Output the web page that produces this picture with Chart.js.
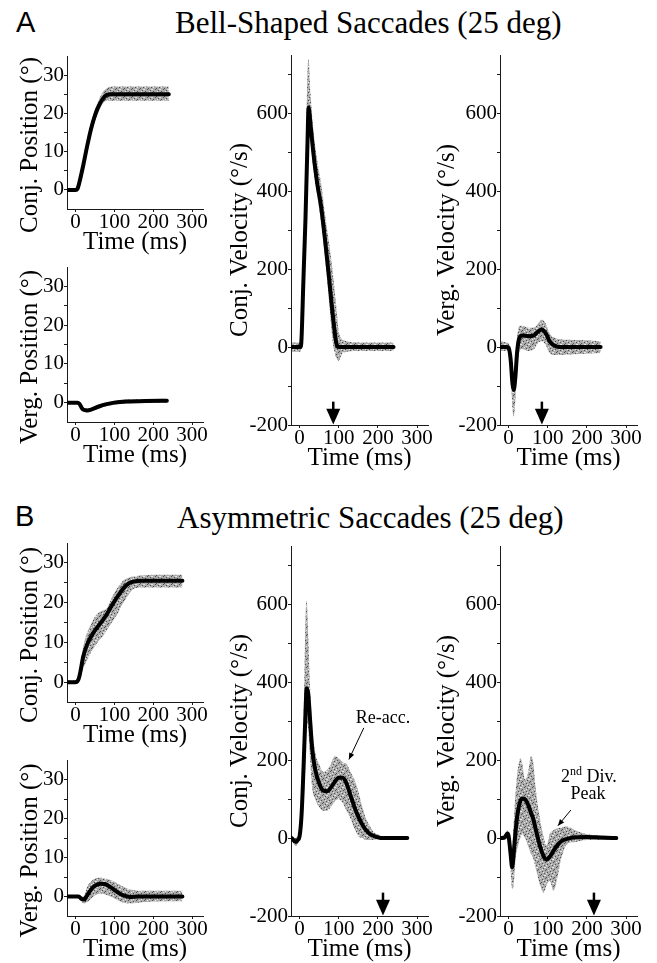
<!DOCTYPE html>
<html>
<head>
<meta charset="utf-8">
<title>Bell-shaped and asymmetric saccades</title>
<script src="https://cdn.jsdelivr.net/npm/chart.js@4.4.1/dist/chart.umd.min.js"></script>
<style>
  html, body { margin: 0; padding: 0; background: #fff; }
  #page { position: relative; width: 657px; height: 963px; overflow: hidden; background: #fff; }
  #page canvas { position: absolute; }
  .tag { position: absolute; font-family: "Liberation Sans", Arial, sans-serif; font-size: 29px; line-height: 29px; color: #000; }
  .head { position: absolute; font-family: "Liberation Serif", "Times New Roman", serif; font-size: 31px; line-height: 31px; color: #000; white-space: nowrap; }
</style>
</head>
<body>
<div id="page">
  <div class="tag" style="left:16px;top:8px">A</div>
  <div class="head" style="left:175px;top:7px">Bell-Shaped Saccades (25 deg)</div>
  <div class="tag" style="left:15px;top:502px">B</div>
  <div class="head" style="left:177px;top:502px">Asymmetric Saccades (25 deg)</div>

  <canvas id="aConjPos" width="213" height="213" style="left:0;top:44px"></canvas>
  <canvas id="aVergPos" width="213" height="215" style="left:0;top:255px"></canvas>
  <canvas id="aConjVel" width="223" height="430" style="left:215px;top:43px"></canvas>
  <canvas id="aVergVel" width="222" height="430" style="left:425px;top:43px"></canvas>

  <canvas id="bConjPos" width="213" height="219" style="left:0;top:531px"></canvas>
  <canvas id="bVergPos" width="213" height="216" style="left:0;top:748px"></canvas>
  <canvas id="bConjVel" width="223" height="430" style="left:215px;top:534px"></canvas>
  <canvas id="bVergVel" width="222" height="430" style="left:425px;top:534px"></canvas>
</div>

<script>
// ---- tick values ----
const timeTicks = [0, 100, 200, 300];
const posTicks = [0, 10, 20, 30];
const posMinor = [5, 15, 25];
const velTicks = [-200, 0, 200, 400, 600];
const velMinor = [-100, 100, 300, 500, 700];

// ---- A: bell-shaped saccades ----
const tAConjPos = [-20, 0, 5, 10, 20, 30, 40, 50, 60, 70, 80, 90, 100, 150, 200, 240];
const aConjPosMean = [0, 0, 0.3, 2, 6.5, 11.5, 16, 19.5, 22, 23.8, 24.8, 25, 25, 25, 25, 25];
const aConjPosHi = [0.3, 0.3, 0.8, 3, 8, 13, 17.5, 21, 23.5, 25.5, 26.5, 27, 27, 27, 27, 27];
const aConjPosLo = [-0.3, -0.3, 0, 1, 5, 10, 14.5, 18, 20.5, 22.5, 23.3, 23.3, 23.3, 23.3, 23.3, 23.3];

const tAVergPos = [-20, 5, 10, 15, 20, 30, 40, 60, 80, 100, 130, 180, 235];
const aVergPosMean = [0, 0, -0.3, -1.2, -1.8, -2.0, -1.8, -1.0, -0.4, 0, 0.3, 0.4, 0.5];
const aVergPosHi = [0.3, 0.3, 0.1, -0.8, -1.3, -1.5, -1.3, -0.5, 0.1, 0.5, 0.8, 0.9, 1.0];
const aVergPosLo = [-0.3, -0.3, -0.7, -1.6, -2.3, -2.5, -2.3, -1.5, -0.9, -0.5, -0.2, -0.1, 0];

const tAConjVel = [-20, 0, 3, 10, 15, 20, 23, 28, 35, 45, 55, 65, 75, 85, 95, 100, 105, 110, 150, 240];
const aConjVelMean = [0, 0, 0, 180, 330, 520, 615, 570, 500, 420, 360, 275, 180, 80, 5, 0, 0, 0, 0, 0];
const aConjVelHi = [12, 12, 15, 250, 450, 700, 740, 650, 560, 480, 420, 340, 270, 190, 90, 40, 25, 18, 12, 12];
const aConjVelLo = [-12, -12, -10, 130, 280, 480, 560, 530, 460, 390, 320, 230, 120, 10, -30, -35, -25, -15, -10, -10];

const tAVergVel = [-20, -5, 0, 5, 10, 13, 17, 22, 28, 35, 50, 65, 75, 85, 95, 105, 115, 130, 180, 235];
const aVergVelMean = [0, 0, -2, -30, -95, -110, -80, -10, 25, 30, 28, 30, 40, 45, 35, 15, 5, 0, 0, 0];
const aVergVelHi = [15, 12, 10, -10, -60, -70, -30, 30, 55, 55, 50, 50, 60, 70, 60, 35, 25, 20, 18, 15];
const aVergVelLo = [-10, -10, -12, -60, -160, -180, -140, -50, -10, -5, -10, -5, 10, 15, 5, -15, -20, -20, -18, -15];

// ---- B: asymmetric saccades ----
const tBConjPos = [-20, 0, 5, 10, 20, 30, 40, 50, 60, 70, 80, 90, 100, 110, 120, 130, 140, 150, 170, 200, 275];
const bConjPosMean = [0, 0, 0.2, 1.5, 6.5, 9.5, 11.5, 13, 14.3, 15.6, 17, 18.7, 20.3, 21.8, 23.2, 24.3, 25, 25.3, 25.5, 25.5, 25.5];
const bConjPosHi = [0.5, 0.5, 1, 3, 9, 12.5, 14.5, 16.5, 17.5, 18, 18.5, 20.5, 22.5, 24, 25.3, 26, 26.4, 26.6, 26.8, 27, 27];
const bConjPosLo = [-0.5, -0.5, -0.3, 0.5, 3.5, 5.5, 7.5, 9, 10.5, 11.5, 13, 14.5, 16, 17.5, 19.5, 21, 22.5, 23.5, 23.8, 23.8, 23.8];

const tBVergPos = [-20, 8, 15, 22, 30, 40, 50, 65, 75, 90, 105, 120, 140, 160, 200, 275];
const bVergPosMean = [0, 0, -0.6, -0.8, 0.3, 1.8, 2.8, 3.3, 3.2, 2.4, 1.3, 0.4, -0.1, 0, 0, 0];
const bVergPosHi = [0.3, 0.3, 0, 0.2, 2.5, 3.8, 4.6, 4.8, 4.6, 4.2, 3.5, 2.6, 1.8, 1.5, 1.5, 1.5];
const bVergPosLo = [-0.3, -0.3, -1.3, -1.8, -1.5, -0.5, 0.3, 0.8, 0.6, 0, -0.8, -1.5, -1.8, -1.6, -1.3, -1.2];

const tBConjVel = [-20, -10, -5, 0, 5, 10, 15, 18, 22, 27, 32, 40, 50, 60, 70, 80, 90, 100, 110, 120, 130, 140, 150, 160, 170, 180, 190, 200, 210, 275];
const bConjVelMean = [0, -10, -5, 5, 60, 180, 320, 385, 370, 300, 230, 175, 140, 122, 120, 130, 145, 155, 155, 140, 110, 80, 55, 35, 20, 10, 5, 2, 0, 0];
const bConjVelHi = [5, 0, 5, 15, 120, 300, 560, 610, 520, 380, 290, 220, 190, 170, 175, 190, 210, 205, 195, 190, 170, 150, 120, 80, 50, 30, 15, 10, 5, 5];
const bConjVelLo = [-5, -20, -15, -5, 20, 80, 200, 300, 280, 200, 130, 100, 80, 70, 70, 80, 95, 100, 90, 70, 50, 25, 5, 0, -5, -5, -4, -3, -3, -3];

const tBVergVel = [-20, -10, -3, 0, 5, 9, 13, 18, 24, 30, 35, 42, 50, 57, 62, 70, 80, 90, 97, 105, 115, 125, 135, 150, 170, 200, 275];
const bVergVelMean = [0, 2, 12, 5, -40, -75, -40, 20, 70, 95, 102, 100, 85, 65, 52, 20, -20, -48, -55, -48, -32, -18, -8, -2, 2, 3, 0];
const bVergVelHi = [5, 8, 20, 10, -10, -30, 40, 120, 180, 205, 190, 150, 170, 210, 200, 120, 50, 0, -20, 10, 20, 25, 28, 30, 20, 10, 5];
const bVergVelLo = [-5, -5, 0, -10, -80, -130, -120, -50, -20, 0, 10, 0, -20, -40, -50, -80, -120, -140, -120, -110, -135, -100, -50, -15, -10, -5, -5];

// end-of-saccade markers (ms)
const aArrowTimes = [86, 85];
const bArrowTimes = [213, 218];

const SERIF = '"Liberation Serif", "Times New Roman", Times, serif';
const INK = '#1a1a1a';
Chart.defaults.font.family = SERIF;
Chart.defaults.color = '#000';

// stippled grey used for the spread of individual traces
function speckle() {
  const c = document.createElement('canvas');
  c.width = 8; c.height = 8;
  const g = c.getContext('2d');
  g.fillStyle = '#ababab';
  g.fillRect(0, 0, 8, 8);
  g.fillStyle = '#505050';
  [[0, 0], [5, 1], [2, 2], [7, 3], [3, 5], [6, 6], [1, 7], [4, 4]].forEach(([x, y]) => g.fillRect(x, y, 1, 1));
  g.fillStyle = '#e4e4e4';
  [[3, 0], [1, 3], [6, 2], [0, 5], [5, 7], [7, 5]].forEach(([x, y]) => g.fillRect(x, y, 1, 1));
  return g.createPattern(c, 'repeat');
}
const stipple = speckle();

const zip = (xs, ys) => xs.map((x, i) => ({ x, y: ys[i] }));

// arrows under the x axis and text notes with pointers
const marksPlugin = {
  id: 'marks',
  afterDatasetsDraw(chart, args, opts) {
    const { ctx, scales: { x, y } } = chart;
    ctx.save();
    ctx.fillStyle = '#000';
    ctx.strokeStyle = '#000';
    (opts.arrows || []).forEach(t => {
      const px = x.getPixelForValue(t);
      const top = y.getPixelForValue(-140);
      const base = y.getPixelForValue(-158);
      const tip = y.getPixelForValue(-199);
      ctx.lineWidth = 2.5;
      ctx.beginPath(); ctx.moveTo(px, top); ctx.lineTo(px, base + 1); ctx.stroke();
      ctx.beginPath();
      ctx.moveTo(px - 7, base); ctx.lineTo(px + 7, base); ctx.lineTo(px, tip);
      ctx.closePath(); ctx.fill();
    });
    (opts.notes || []).forEach(n => {
      ctx.textAlign = 'left';
      ctx.textBaseline = 'middle';
      n.lines.forEach(line => {
        const cy = y.getPixelForValue(line.v);
        const parts = line.parts.map(p => {
          const size = p.sup ? 12 : 18;
          ctx.font = size + 'px ' + SERIF;
          return { ...p, size, w: ctx.measureText(p.text).width };
        });
        const total = parts.reduce((s, p) => s + p.w, 0);
        let cx = x.getPixelForValue(line.t) - total / 2;
        parts.forEach(p => {
          ctx.font = p.size + 'px ' + SERIF;
          ctx.fillText(p.text, cx, p.sup ? cy - 6 : cy);
          cx += p.w;
        });
      });
      const x0 = x.getPixelForValue(n.from[0]), y0 = y.getPixelForValue(n.from[1]);
      const x1 = x.getPixelForValue(n.to[0]), y1 = y.getPixelForValue(n.to[1]);
      const ang = Math.atan2(y1 - y0, x1 - x0);
      ctx.lineWidth = 1;
      ctx.beginPath(); ctx.moveTo(x0, y0); ctx.lineTo(x1, y1); ctx.stroke();
      ctx.beginPath();
      ctx.moveTo(x1, y1);
      ctx.lineTo(x1 - 7 * Math.cos(ang - 0.4), y1 - 7 * Math.sin(ang - 0.4));
      ctx.lineTo(x1 - 7 * Math.cos(ang + 0.4), y1 - 7 * Math.sin(ang + 0.4));
      ctx.closePath(); ctx.fill();
    });
    ctx.restore();
  }
};

function panel(id, p) {
  const yTickList = p.majors.concat(p.minors);
  const tickFont = { family: SERIF, size: 21, lineHeight: 1 };
  const titleFont = { family: SERIF, size: 25, lineHeight: 1 };
  return new Chart(document.getElementById(id), {
    type: 'line',
    data: {
      // mean first so it is drawn on top of the spread
      datasets: [
        { data: zip(p.t, p.mean), fill: false, borderColor: '#000', borderWidth: 4, pointRadius: 0, cubicInterpolationMode: 'monotone', borderCapStyle: 'round', borderJoinStyle: 'round' },
        { data: zip(p.t, p.hi), fill: '+1', backgroundColor: stipple, borderColor: 'rgba(0,0,0,0)', borderWidth: 1, pointRadius: 0, cubicInterpolationMode: 'monotone' },
        { data: zip(p.t, p.lo), fill: false, borderColor: 'rgba(0,0,0,0)', borderWidth: 1, pointRadius: 0, cubicInterpolationMode: 'monotone' }
      ]
    },
    options: {
      responsive: false,
      animation: false,
      parsing: false,
      events: [],
      layout: { padding: { top: 12, right: 10, bottom: 0, left: 0 } },
      plugins: {
        legend: { display: false },
        tooltip: { enabled: false },
        marks: { arrows: p.arrows || [], notes: p.notes || [] }
      },
      scales: {
        x: {
          type: 'linear', min: -22, max: 328,
          afterBuildTicks: s => { s.ticks = timeTicks.map(v => ({ value: v })); },
          afterFit: s => { s.height = 48; },
          border: { color: INK, width: 1 },
          grid: { drawOnChartArea: false, tickLength: 3, color: INK },
          ticks: { color: '#000', padding: 0, maxRotation: 0, minRotation: 0, autoSkip: false, font: tickFont, callback: v => String(v) },
          title: { display: true, text: 'Time (ms)', color: '#000', font: titleFont, padding: { top: 0, bottom: 2 } }
        },
        y: {
          type: 'linear', min: p.min, max: p.max,
          afterBuildTicks: s => { s.ticks = yTickList.map(v => ({ value: v })); },
          afterFit: s => { s.width = p.yw; },
          border: { color: INK, width: 1 },
          grid: { drawOnChartArea: false, tickLength: 3, color: INK },
          ticks: { color: '#000', padding: 0, autoSkip: false, font: tickFont, callback: v => p.majors.includes(v) ? String(v) : '' },
          title: { display: true, text: p.title, color: '#000', font: titleFont, padding: { top: p.titlePad, bottom: 0 } }
        }
      }
    },
    plugins: [marksPlugin]
  });
}

// trailing gap nudges the rotated position titles downward, as in the source figure
const GAP = '\u00a0\u00a0\u00a0\u00a0';
const posAxis = { min: -5, max: 35, majors: posTicks, minors: posMinor, yw: 67, titlePad: 17.5 };
const conjVelAxis = { min: -200, max: 750, majors: velTicks, minors: velMinor, yw: 76, titlePad: 12.5 };
const vergVelAxis = { min: -200, max: 750, majors: velTicks, minors: velMinor, yw: 75, titlePad: 9.5 };

panel('aConjPos', { ...posAxis, title: 'Conj. Position (°)' + GAP, t: tAConjPos, mean: aConjPosMean, hi: aConjPosHi, lo: aConjPosLo });
panel('aVergPos', { ...posAxis, title: 'Verg. Position (°)' + GAP, t: tAVergPos, mean: aVergPosMean, hi: aVergPosHi, lo: aVergPosLo });
panel('aConjVel', { ...conjVelAxis, title: 'Conj. Velocity (°/s)', t: tAConjVel, mean: aConjVelMean, hi: aConjVelHi, lo: aConjVelLo, arrows: [aArrowTimes[0]] });
panel('aVergVel', { ...vergVelAxis, title: 'Verg. Velocity (°/s)', t: tAVergVel, mean: aVergVelMean, hi: aVergVelHi, lo: aVergVelLo, arrows: [aArrowTimes[1]] });

panel('bConjPos', { ...posAxis, title: 'Conj. Position (°)' + GAP, t: tBConjPos, mean: bConjPosMean, hi: bConjPosHi, lo: bConjPosLo });
panel('bVergPos', { ...posAxis, title: 'Verg. Position (°)' + GAP, t: tBVergPos, mean: bVergPosMean, hi: bVergPosHi, lo: bVergPosLo });
panel('bConjVel', {
  ...conjVelAxis, title: 'Conj. Velocity (°/s)', t: tBConjVel, mean: bConjVelMean, hi: bConjVelHi, lo: bConjVelLo, arrows: [bArrowTimes[0]],
  notes: [{ lines: [{ t: 213, v: 308, parts: [{ text: 'Re-acc.' }] }], from: [164, 283], to: [126, 202] }]
});
panel('bVergVel', {
  ...vergVelAxis, title: 'Verg. Velocity (°/s)', t: tBVergVel, mean: bVergVelMean, hi: bVergVelHi, lo: bVergVelLo, arrows: [bArrowTimes[1]],
  notes: [{
    lines: [
      { t: 205, v: 156, parts: [{ text: '2' }, { text: 'nd', sup: true }, { text: ' Div.' }] },
      { t: 203, v: 113, parts: [{ text: 'Peak' }] }
    ],
    from: [159, 72], to: [126, 32]
  }]
});
</script>
</body>
</html>
